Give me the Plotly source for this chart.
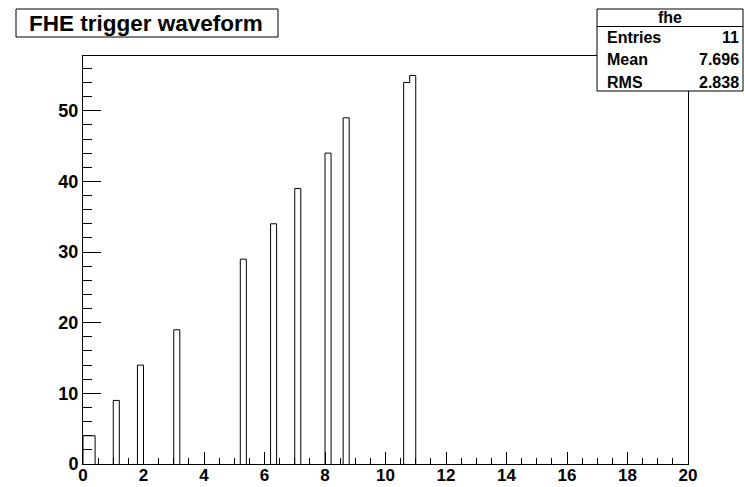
import plotly.graph_objects as go

# ---- data ----
bin_width = 0.2
bin_low = [0.0, 0.2, 1.0, 1.8, 3.0, 5.2, 6.2, 7.0, 8.0, 8.6, 10.6, 10.8]
bin_values = [4, 4, 9, 14, 19, 29, 34, 39, 44, 49, 54, 55]
x_ticks = [0, 2, 4, 6, 8, 10, 12, 14, 16, 18, 20]
y_ticks = [0, 10, 20, 30, 40, 50]
title_text = "FHE trigger waveform"
stat_name = "fhe"
stat_labels = ["Entries", "Mean", "RMS"]
stat_values = ["11", "7.696", "2.838"]

# ---- build the step outline of the histogram ----
xs, ys = [], []
prev_hi = None
for lo, v in zip(bin_low, bin_values):
    hi = round(lo + bin_width, 6)
    if prev_hi is None or abs(lo - prev_hi) > 1e-9:
        if prev_hi is not None:
            xs += [prev_hi, None]
            ys += [0, None]
        xs += [lo]
        ys += [0]
    xs += [lo, hi]
    ys += [v, v]
    prev_hi = hi
xs += [prev_hi]
ys += [0]

W, H = 744, 487
L, R, T, B = 83, 688, 56, 464
ymax = max(bin_values) * 1.05

fig = go.Figure()
fig.add_trace(go.Scatter(x=xs, y=ys, mode="lines",
                         line=dict(color="black", width=1),
                         hoverinfo="skip", showlegend=False))

font_family = "Liberation Sans, Arial, Helvetica, sans-serif"
xtickfont = dict(family=font_family, size=17, color="black", weight="bold")
ytickfont = dict(family=font_family, size=18, color="black", weight="bold")

fig.update_layout(
    width=W, height=H,
    margin=dict(l=L, r=W - R, t=T, b=H - B, pad=0, autoexpand=False),
    paper_bgcolor="white", plot_bgcolor="white",
    showlegend=False,
    xaxis=dict(range=[0, 20], tickvals=x_ticks, ticktext=[str(t) for t in x_ticks],
               ticks="inside", ticklen=12, tickwidth=1, tickcolor="black",
               minor=dict(dtick=0.5, tick0=0, ticks="inside", ticklen=6,
                          tickwidth=1, tickcolor="black"),
               showline=True, linecolor="black", linewidth=1, mirror=True,
               showgrid=False, zeroline=False, tickfont=xtickfont, automargin=False,
               ticklabelstandoff=-4),
    yaxis=dict(range=[0, ymax], tickvals=y_ticks, ticktext=[str(t) for t in y_ticks],
               ticks="inside", ticklen=18, tickwidth=1, tickcolor="black",
               minor=dict(dtick=2, tick0=0, ticks="inside", ticklen=9,
                          tickwidth=1, tickcolor="black"),
               showline=True, linecolor="black", linewidth=1, mirror=True,
               showgrid=False, zeroline=False, tickfont=ytickfont, automargin=False),
)


def px(x):
    return (x - L) / (R - L)


def py(y):
    return (B - y) / (B - T)


shapes = []
annotations = []

# title box
shapes.append(dict(type="rect", xref="paper", yref="paper",
                   x0=px(16), x1=px(278), y0=py(37), y1=py(9),
                   line=dict(color="black", width=1), fillcolor="white", layer="above"))
annotations.append(dict(text=title_text, xref="paper", yref="paper",
                        x=px(146), y=py(23), xanchor="center", yanchor="middle",
                        showarrow=False,
                        font=dict(family=font_family, size=22.5, color="black", weight="bold")))

# stat box
sx0, sx1, sy0, sy1 = 597, 743, 9, 91
shapes.append(dict(type="rect", xref="paper", yref="paper",
                   x0=px(sx0), x1=px(sx1), y0=py(sy1), y1=py(sy0),
                   line=dict(color="black", width=1), fillcolor="white", layer="above"))
shapes.append(dict(type="line", xref="paper", yref="paper",
                   x0=px(sx0), x1=px(sx1), y0=py(26.5), y1=py(26.5),
                   line=dict(color="black", width=1), layer="above"))
statfont = dict(family=font_family, size=16, color="black", weight="bold")
annotations.append(dict(text=stat_name, xref="paper", yref="paper",
                        x=px((sx0 + sx1) / 2), y=py(17.5), xanchor="center", yanchor="middle",
                        showarrow=False, font=statfont))
row_y = [37.5, 60, 82]
for lab, val, ry in zip(stat_labels, stat_values, row_y):
    annotations.append(dict(text=lab, xref="paper", yref="paper",
                            x=px(sx0 + 8), y=py(ry), xanchor="left", yanchor="middle",
                            showarrow=False, font=statfont))
    annotations.append(dict(text=val, xref="paper", yref="paper",
                            x=px(sx1 - 2), y=py(ry), xanchor="right", yanchor="middle",
                            showarrow=False, font=statfont))

fig.update_layout(shapes=shapes, annotations=annotations)
fig.write_html("out.html", config={"displayModeBar": False},
               post_script="document.body.style.margin='0';document.body.style.overflow='hidden';")
